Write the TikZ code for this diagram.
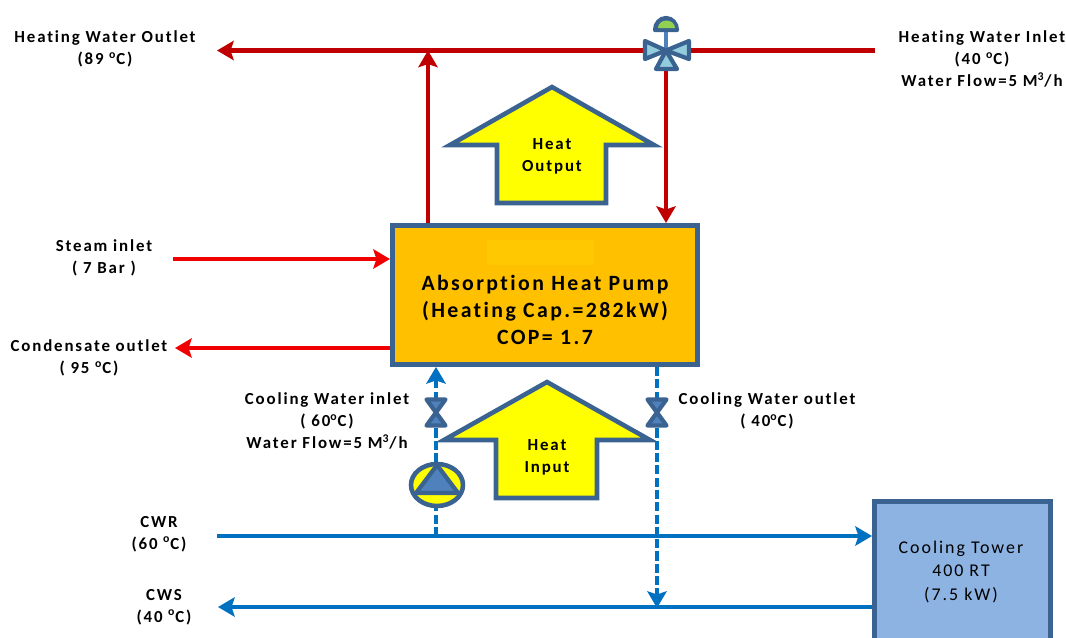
\documentclass[tikz,border=0pt]{standalone}
\usepackage{fontspec}
\setmainfont{Carlito}
\newfontfamily\spacedfont[LetterSpace=11,Ligatures=CommonOff]{Carlito}
\usetikzlibrary{arrows.meta}

\definecolor{steelline}{HTML}{3B6391}
\definecolor{hotred}{HTML}{C00000}
\definecolor{steamred}{HTML}{F00000}
\definecolor{coolblue}{HTML}{0070C0}
\definecolor{pumpbody}{HTML}{FFC000}
\definecolor{barfill}{HTML}{FFC800}
\definecolor{towerblue}{HTML}{8DB3E2}
\definecolor{valvefill}{HTML}{93CDDD}
\definecolor{trianglefill}{HTML}{4F81BD}
\definecolor{arrowyellow}{HTML}{FFFF00}
\definecolor{domegreen}{HTML}{92D050}

\begin{document}
\begin{tikzpicture}[
    >={Stealth[length=9.5pt,width=11pt,inset=1.8pt]},
    x=0.02cm,
    y=-0.02cm,
    hotline/.style={line width=2.4pt, hotred},
    steamline/.style={line width=2.2pt, steamred},
    coolline/.style={line width=2.2pt, coolblue},
    cooldash/.style={line width=2.6pt, coolblue, dash pattern=on 5.2pt off 1.8pt},
    lab/.style={font=\spacedfont\bfseries\fontsize{9.6}{12.5}\selectfont, align=center, text=black, inner sep=0pt},
    block/.style={draw=steelline, line width=2.8pt, inner sep=0pt, anchor=north west},
    bigarrow/.style={draw=steelline, line width=2.6pt, fill=arrowyellow, line join=miter},
    valveleg/.style={draw=steelline, line width=2.4pt, line join=round},
]
\useasboundingbox (0,0) rectangle (1066,637);
\clip (0,0) rectangle (1066,637);

% ---------------- connection points ----------------
\coordinate (hwin) at (875,50.5);
\coordinate (hwout) at (217,50.5);
\coordinate (tee) at (428,50.5);
\coordinate (mixer) at (666,50.5);
\coordinate (steamstart) at (173,259);
\coordinate (condend) at (175,348);
\coordinate (cwrstart) at (217,536);
\coordinate (cwsend) at (218,607);
\coordinate (cwrtap) at (436,536);
\coordinate (cwstap) at (657,608);

% ---------------- blocks ----------------
\node[block, fill=pumpbody, minimum width=305*0.02cm, minimum height=139*0.02cm] (hp) at (390,223) {};
\node[fill=barfill, inner sep=0pt, minimum width=107*0.02cm, minimum height=25*0.02cm] (hpbar) at (540.5,252.5) {};
\node[block, fill=towerblue, minimum width=176*0.02cm, minimum height=170*0.02cm] (tower) at (872,499) {};

% ---------------- big arrows ----------------
\draw[bigarrow] (552,87) -- (654,145) -- (606,145) -- (606,203) -- (497,203) -- (497,145) -- (450,145) -- cycle;
\draw[bigarrow] (547,382) -- (650,440) -- (597,440) -- (597,498) -- (496,498) -- (496,440) -- (444,440) -- cycle;
\node[lab] (heatout) at (552,156) {Heat\\Output};
\node[lab] (heatin) at (547,457) {Heat\\Input};

% ---------------- heating water ----------------
\draw[->, hotline] (hwin) -- (hwout);
\draw[->, hotline] (hp.north -| tee) -- (tee);
\draw[->, hotline] (mixer) -- (hp.north -| mixer);

% ---------------- steam and condensate ----------------
\draw[->, steamline] (steamstart) -- (steamstart -| hp.west);
\draw[->, steamline] (condend -| hp.west) -- (condend);

% ---------------- cooling water ----------------
\draw[->, coolline] (cwrstart) -- (cwrstart -| tower.west);
\draw[->, coolline] (cwsend -| tower.west) -- (cwsend);
\draw[->, cooldash] (cwrtap) -- (cwrtap |- hp.south);
\draw[->, cooldash] (cwstap |- hp.south) -- (cwstap);

% ---------------- three way valve ----------------
\draw[line width=2.8pt, trianglefill] (mixer) -- ++(0,-22);
\draw[valveleg, fill=steelline] (655,30) arc[start angle=180, end angle=0, x radius=11, y radius=-12] -- cycle;
\fill[domegreen] (658,28) arc[start angle=180, end angle=0, x radius=8.5, y radius=-7.5] -- cycle;
\draw[valveleg, fill=valvefill] (mixer) -- (645,41) -- (645,59) -- cycle;
\draw[valveleg, fill=valvefill] (mixer) -- (689,41) -- (689,59) -- cycle;
\draw[valveleg, fill=valvefill] (mixer) -- (656,69) -- (677,69) -- cycle;

% ---------------- bow tie valves ----------------
\foreach \x/\name in {436/cwin, 657/cwout}{
    \coordinate (\name) at (\x,412.5);
    \draw[valveleg, fill=trianglefill] (\name) -- ++(-9.5,-13) -- ++(19,0) -- cycle;
    \draw[valveleg, fill=trianglefill] (\name) -- ++(-9.5,13) -- ++(19,0) -- cycle;
}

% ---------------- pump ----------------
\coordinate (pump) at (437,485);
\draw[steelline, line width=2.6pt, fill=arrowyellow] (pump) ellipse[x radius=26, y radius=21];
\draw[valveleg, fill=trianglefill] (437,465) -- (416,493) -- (458,493) -- cycle;

% ---------------- labels ----------------
\node[font=\spacedfont\bfseries\fontsize{12.4}{15.3}\selectfont, align=center, inner sep=0pt] (hplabel) at (545,310) {Absorption Heat Pump\\(Heating Cap.=282kW)\\COP= 1.7};
\node[font=\spacedfont\fontsize{10.2}{13.2}\selectfont, align=center, inner sep=0pt] (towerlabel) at (961,572) {Cooling Tower\\400 RT\\(7.5 kW)};

\node[lab] (hwoutlab) at (105,49) {Heating Water Outlet\\(89 \textsuperscript{o}C)};
\node[lab] (hwinlab) at (982,59) {Heating Water Inlet\\(40 \textsuperscript{o}C)\\Water Flow=5 M\textsuperscript{3}/h};
\node[lab] (steamlab) at (104,258) {Steam inlet\\( 7 Bar )};
\node[lab] (condlab) at (89,358) {Condensate outlet\\( 95 \textsuperscript{o}C)};
\node[lab] (cwinlab) at (327,421) {Cooling Water inlet\\( 60\textsuperscript{o}C)\\Water Flow=5 M\textsuperscript{3}/h};
\node[lab] (cwoutlab) at (767,411) {Cooling Water outlet\\( 40\textsuperscript{o}C)};
\node[lab] (cwrlab) at (159,534) {CWR\\(60 \textsuperscript{o}C)};
\node[lab] (cwslab) at (164,607) {CWS\\(40 \textsuperscript{o}C)};

\end{tikzpicture}
\end{document}
